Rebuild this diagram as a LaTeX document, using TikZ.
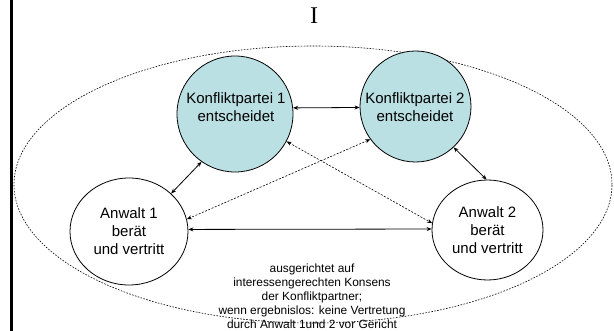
\documentclass[tikz,border=0pt]{standalone}
\usepackage{fontspec}
\setmainfont{Liberation Sans}
\newfontfamily\titlefont{Liberation Serif}
\usepackage{xcolor}
\usepackage{tikz}
\usetikzlibrary{arrows.meta,shapes.geometric}
\definecolor{ink}{HTML}{000000}
\definecolor{teal}{HTML}{BBE0E3}
\tikzset{
  party/.style={draw=ink, fill=teal, circle, line width=0.8pt, inner sep=0pt},
  lawyer/.style={draw=ink, fill=white, ellipse, line width=0.8pt, inner sep=0pt, align=center,
    font=\fontsize{15}{18}\selectfont},
  lab/.style={text=ink, align=center, font=\fontsize{15}{18}\selectfont},
  note/.style={text=ink, align=center, inner sep=1pt, font=\fontsize{11.9}{14}\selectfont},
  link/.style={draw=ink, line width=0.8pt, {Stealth[length=5pt,width=4pt]}-{Stealth[length=5pt,width=4pt]}},
  hint/.style={draw=ink, line width=0.6pt, dash pattern=on 2pt off 1.5pt,
    {Stealth[length=5pt,width=4pt]}-{Stealth[length=5pt,width=4pt]}},
  hull/.style={draw=ink, line width=0.6pt, dash pattern=on 1.6pt off 1.4pt},
}
\begin{document}
\begin{tikzpicture}[x=1pt,y=-1pt]
  \useasboundingbox (0,0) rectangle (614,331);
  \draw[ink, line width=3pt] (11.5,0) -- (11.5,331);
  \node[font=\titlefont\fontsize{24}{28}\selectfont] (title) at (314,16) {I};
  % outer frame
  \draw[hull] (313,184.5) ellipse [x radius=299pt, y radius=138.5pt];
  % parties and lawyers
  \node[party, minimum size=116pt] (kp1) at (235,114) {};
  \node[party, minimum size=111pt] (kp2) at (415.5,106.5) {};
  \node[lab] (kp1txt) at (236,107) {Konfliktpartei 1\\entscheidet};
  \node[lab] (kp2txt) at (415,107) {Konfliktpartei 2\\entscheidet};
  \node[lawyer, minimum width=118pt, minimum height=107pt] (aw1) at (129,231.5) {Anwalt 1\\berät\\und vertritt};
  \node[lawyer, minimum width=111pt, minimum height=100pt] (aw2) at (487.5,230) {Anwalt 2\\berät\\und vertritt};
  \node[note] (goal) at (312,296.5) {ausgerichtet auf\\interessengerechten Konsens\\der Konfliktpartner;\\wenn ergebnislos: keine Vertretung\\durch Anwalt 1und 2 vor Gericht};
  % connections
  \draw[link] (kp1.6) -- (kp2.181.5);
  \draw[link] (kp1.235) -- (aw1.42);
  \draw[link] (kp2.313) -- (aw2.91);
  \draw[link] (aw1.2) -- (aw2.179);
  \draw[hint] (kp1.332) -- (aw2.173.5);
  \draw[hint] (kp2.216.4) -- (aw1.12);
\end{tikzpicture}
\end{document}
